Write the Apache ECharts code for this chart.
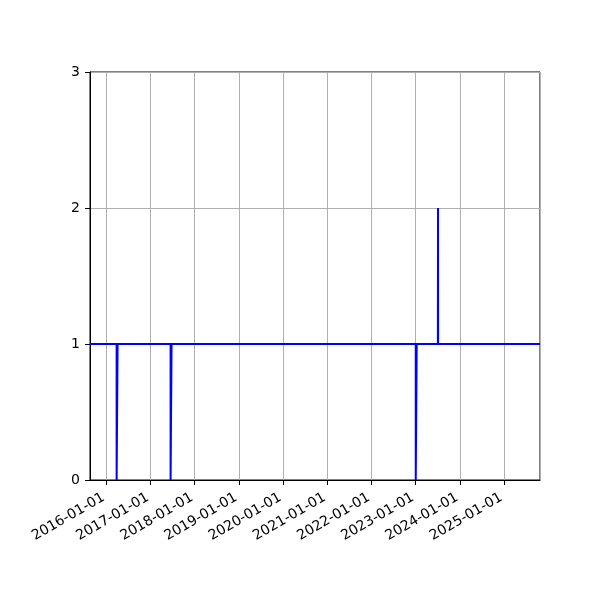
<!DOCTYPE html>
<html>
<head>
    <meta charset="UTF-8">
    <title>Step series</title>
    <script src="https://cdn.jsdelivr.net/npm/echarts@6/dist/echarts.min.js"></script>
    <style>
        html, body { margin: 0; padding: 0; background: #fff; }
    </style>
</head>
<body>
    <div id="chart" style="width:600px; height:600px;"></div>

    <script>
        // points where the series changes
        var dates = ['2015-08-20', '2016-03-27', '2016-03-27', '2016-04-04', '2016-04-04',
                     '2017-06-16', '2017-06-16', '2017-06-24', '2017-06-24',
                     '2023-01-02', '2023-01-02', '2023-01-10', '2023-01-10',
                     '2023-07-04', '2023-07-05', '2023-07-06', '2025-10-25'];
        var values = [1, 1, 0, 0, 1,
                      1, 0, 0, 1,
                      1, 0, 0, 1,
                      1, 2, 1, 1];
        var yTicks = [0, 1, 2, 3];
        var xMin = '2015-08-20';
        var xMax = '2025-10-25';

        var DAY = 86400000;
        var font = 'DejaVu Sans';

        var chart = echarts.init(document.getElementById('chart'), null, {renderer: 'canvas'});

        var option = {
            backgroundColor: '#fff',
            animation: false,
            grid: {
                left: 90, right: 60, top: 72, bottom: 120,
                show: true, borderColor: '#000', borderWidth: 1, backgroundColor: 'transparent'
            },
            xAxis: {
                type: 'time',
                min: xMin,
                max: xMax,
                minInterval: 365 * DAY,
                maxInterval: 366 * DAY,
                axisLine: {show: true, onZero: false, lineStyle: {color: '#000', width: 1}},
                axisTick: {show: true, length: 5, lineStyle: {color: '#000', width: 1}},
                axisLabel: {
                    rotate: 30,
                    color: '#000',
                    fontFamily: font,
                    fontSize: 14,
                    margin: 15,
                    padding: [0, 3, 0, 0],
                    showMinLabel: false,
                    showMaxLabel: false,
                    hideOverlap: false,
                    formatter: '{yyyy}-{MM}-{dd}'
                },
                splitLine: {show: true, lineStyle: {color: '#b0b0b0', width: 1}}
            },
            yAxis: {
                type: 'value',
                min: yTicks[0],
                max: yTicks[yTicks.length - 1],
                interval: 1,
                axisLine: {show: true, lineStyle: {color: '#000', width: 1}},
                axisTick: {show: true, length: 5, lineStyle: {color: '#000', width: 1}},
                axisLabel: {color: '#000', fontFamily: font, fontSize: 14, margin: 10},
                splitLine: {show: true, lineStyle: {color: '#b0b0b0', width: 1}}
            },
            series: [{
                type: 'line',
                data: dates.map(function (d, i) { return [d, values[i]]; }),
                showSymbol: false,
                lineStyle: {color: '#0000ff', width: 2, join: 'miter'},
                itemStyle: {color: '#0000ff'},
                clip: true
            }]
        };

        chart.setOption(option);
    </script>
</body>
</html>
